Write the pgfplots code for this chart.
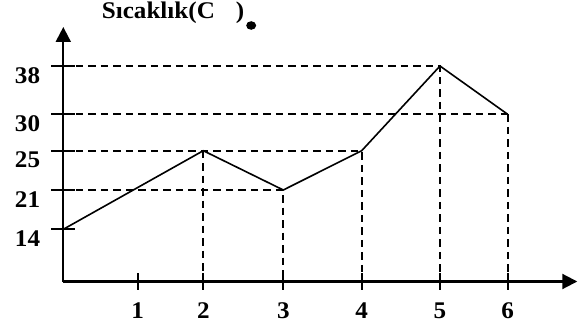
\documentclass[border=0pt]{standalone}
\usepackage{pgfplots}
\pgfplotsset{compat=1.18}
\usetikzlibrary{arrows.meta}
\usepackage{fontspec}
\setmainfont{Liberation Serif}
% bold, slightly widened lettering used for every label
\newcommand\lab[1]{\scalebox{1.05}[1]{\bfseries\fontsize{24}{26}\selectfont #1}}

\begin{document}
\begin{tikzpicture}
\begin{axis}[
  x=1bp, y=1bp,
  % hand-spaced hours on the horizontal axis
  x coord trafo/.code={\pgfmathparse{#1<1 ? 74.4*#1 : (#1<2 ? 74.4+65.6*(#1-1) : (#1<3 ? 140+80*(#1-2) : (#1<4 ? 220+78.4*(#1-3) : (#1<5 ? 298.4+78.3*(#1-4) : (#1<6 ? 376.7+67.7*(#1-5) : 444.4+69.6*(#1-6))))))}},
  % evenly spaced temperature marks on the vertical axis
  y coord trafo/.code={\pgfmathparse{#1<14 ? 52.2*#1/14 : (#1<21 ? 52.2+39.3*(#1-14)/7 : (#1<25 ? 91.5+39.3*(#1-21)/4 : (#1<30 ? 130.8+36.4*(#1-25)/5 : 167.2+48.3*(#1-30)/8)))}},
  xmin=0, xmax=7, ymin=0, ymax=44.46,
  axis lines=left,
  axis line style={line width=2bp, -{Triangle[length=15bp,width=15bp]}},
  clip=false,
  xtick={1,2,3,4,5,6},
  xticklabels={\lab{1},\lab{2},\lab{3},\lab{4},\lab{5},\lab{6}},
  xtick style={draw=none},
  ytick={14,21,25,30,38},
  yticklabels={\lab{14},\lab{21},\lab{25},\lab{30},\lab{38}},
  major tick length=24bp,
  tick align=center,
  ytick style={line width=2bp, black},
  xticklabel style={anchor=north, inner sep=0pt, yshift=-9bp},
  yticklabel style={anchor=north east, inner sep=0pt, xshift=-11bp, yshift=-1bp},
]
% guide lines to the axes
\pgfplotsset{guide/.style={black, line width=2bp, dash pattern=on 7.5bp off 5bp}}
\addplot[guide] coordinates {(0,38) (5,38) (5,0)};
\addplot[guide] coordinates {(0,30) (6.06,30)};
\addplot[guide] coordinates {(6,30) (6,0)};
\addplot[guide] coordinates {(0,25) (4,25) (4,0)};
\addplot[guide] coordinates {(2,25) (2,0)};
\addplot[guide] coordinates {(0,21) (3,21) (3,0)};
% hour ticks on the time axis
\addplot[black, line width=2bp, only marks, mark=|, mark size=8bp]
  coordinates {(1,0) (2,0) (3,0) (4,0) (5,0) (6,0)};
% temperature over time
\addplot[black, line width=1.6bp, no marks]
  coordinates {(0,14) (2,25) (3,21) (4,25) (5,38) (6,30)};
\coordinate (O) at (rel axis cs:0,0);
\end{axis}
\node[anchor=base west, inner sep=0pt] (T) at ([shift={(38.4bp,263.2bp)}]O)
  {\lab{Sıcaklık(C\hspace{20bp})}};
\fill ([shift={(6.7bp,-7.2bp)}]T.base east) ellipse (5bp and 4.3bp);
\pgfresetboundingbox
\path ([shift={(-63.3bp,-47.5bp)}]O) rectangle ([shift={(520.7bp,281.5bp)}]O);
\end{tikzpicture}
\end{document}
